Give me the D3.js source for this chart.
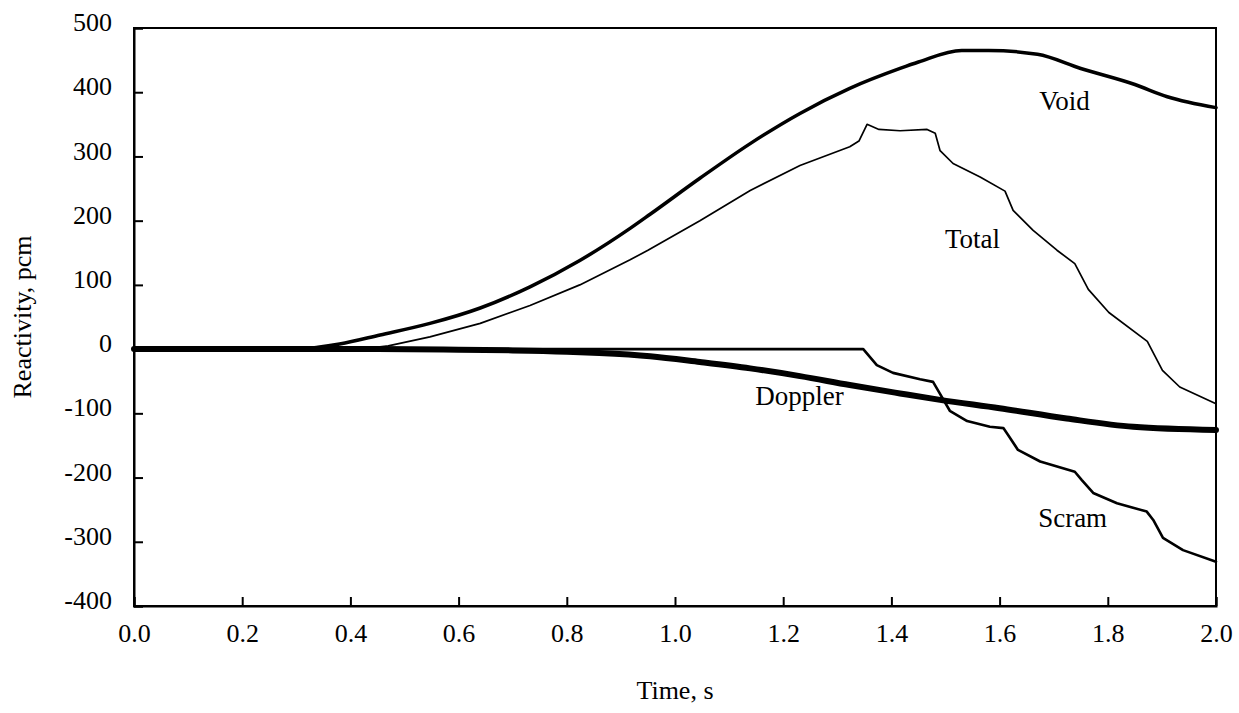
<!DOCTYPE html>
<html>
<head>
<meta charset="utf-8">
<script src="https://cdn.jsdelivr.net/npm/d3@7/dist/d3.min.js"></script>
<style>
  html, body { margin: 0; padding: 0; background: #fff; }
  svg { display: block; }
  text { font-family: "Liberation Serif", "Times New Roman", serif; fill: #000; }
</style>
</head>
<body>
<svg id="chart" width="1239" height="713"></svg>
<script>
// ---- data ----
const xTicks = [0.0, 0.2, 0.4, 0.6, 0.8, 1.0, 1.2, 1.4, 1.6, 1.8, 2.0];
const yTicks = [-400, -300, -200, -100, 0, 100, 200, 300, 400, 500];

const voidTime  = [0, 0.30, 0.34, 0.38, 0.455, 0.547, 0.64, 0.732, 0.824, 0.917, 0.954, 1.046, 1.139, 1.231, 1.323, 1.416, 1.45, 1.53, 1.58, 1.67, 1.75, 1.85, 1.91, 2.0];
const voidValue = [0, 0, 3, 8, 22, 40, 64, 97, 138, 188, 210, 266, 320, 367, 406, 437, 447, 465, 465, 459, 437, 412, 393, 376];

const totalTime  = [0, 0.42, 0.47, 0.547, 0.64, 0.732, 0.824, 0.917, 0.95, 1.046, 1.139, 1.231, 1.323, 1.34, 1.355, 1.377, 1.416, 1.466, 1.481, 1.49, 1.514, 1.564, 1.61, 1.625, 1.662, 1.706, 1.739, 1.764, 1.802, 1.873, 1.901, 1.933, 2.0];
const totalValue = [0, 0, 5, 19, 40, 68, 100, 139, 154, 200, 247, 286, 315, 324, 350, 342, 340, 342, 336, 309, 289, 268, 246, 216, 185, 154, 133, 93, 57, 12, -33, -59, -85];

const dopplerTime  = [0, 0.45, 0.6, 0.7, 0.8, 0.86, 0.954, 1.046, 1.139, 1.231, 1.323, 1.416, 1.49, 1.6, 1.724, 1.847, 2.0];
const dopplerValue = [0, 0, -1, -2, -4, -6, -11, -20, -30, -42, -56, -69, -79, -92, -108, -121, -126];

const scramTime  = [0, 1.348, 1.373, 1.403, 1.453, 1.477, 1.488, 1.508, 1.54, 1.582, 1.607, 1.616, 1.634, 1.675, 1.739, 1.752, 1.773, 1.817, 1.872, 1.884, 1.902, 1.939, 2.0];
const scramValue = [0, 0, -25, -37, -47, -51, -67, -96, -112, -121, -123, -134, -157, -175, -191, -204, -224, -240, -253, -266, -294, -313, -331];

const seriesNames = ["Void", "Total", "Doppler", "Scram"];
const labelTime  = [1.72, 1.55, 1.23, 1.735];
const labelValue = [386, 172, -73, -263];

// ---- chart ----
const svg = d3.select("#chart");
const W = 1239, H = 713;
const margin = { left: 134, right: W - 1216, top: 28, bottom: H - 606 };

const x = d3.scaleLinear().domain([0, 2]).range([margin.left, W - margin.right]);
const y = d3.scaleLinear().domain([-400, 500]).range([H - margin.bottom, margin.top]);

svg.append("rect").attr("width", W).attr("height", H).attr("fill", "#fff");

// plot frame
svg.append("rect")
  .attr("x", x(0)).attr("y", y(500))
  .attr("width", x(2) - x(0)).attr("height", y(-400) - y(500))
  .attr("fill", "none").attr("stroke", "#000").attr("stroke-width", 2);

// y axis (ticks inward)
const yAxis = d3.axisLeft(y).tickValues(yTicks).tickSize(-9).tickPadding(22)
  .tickFormat(d => String(d));
const gy = svg.append("g").attr("transform", `translate(${x(0)},0)`).call(yAxis);
gy.select(".domain").attr("stroke-width", 2);
gy.selectAll(".tick line").attr("stroke-width", 2);
gy.selectAll(".tick text")
  .style("font-size", "26px").attr("dy", "0.1em");

// x axis (ticks inward)
const xAxis = d3.axisBottom(x).tickValues(xTicks).tickSize(-9).tickPadding(18)
  .tickFormat(d3.format(".1f"));
const gx = svg.append("g").attr("transform", `translate(0,${y(-400)})`).call(xAxis);
gx.select(".domain").attr("stroke-width", 2);
gx.selectAll(".tick line").attr("stroke-width", 2);
gx.selectAll(".tick text").style("font-size", "26px");

// axis titles
svg.append("text")
  .attr("x", (x(0) + x(2)) / 2).attr("y", 699)
  .attr("text-anchor", "middle").style("font-size", "26px")
  .text("Time, s");
svg.append("text")
  .attr("transform", `translate(31,${(y(500) + y(-400)) / 2}) rotate(-90)`)
  .attr("text-anchor", "middle").style("font-size", "26px")
  .text("Reactivity, pcm");

// lines
function pts(ts, vs) { return ts.map((t, i) => [t, vs[i]]); }
const lineSmooth = d3.line().x(d => x(d[0])).y(d => y(d[1])).curve(d3.curveMonotoneX);
const lineSharp = d3.line().x(d => x(d[0])).y(d => y(d[1])).curve(d3.curveLinear);

const plot = svg.append("g").attr("fill", "none").attr("stroke", "#000")
  .attr("stroke-linejoin", "round").attr("stroke-linecap", "round");

plot.append("path").attr("d", lineSharp(pts(scramTime, scramValue))).attr("stroke-width", 2.6);
plot.append("path").attr("d", lineSharp(pts(totalTime, totalValue))).attr("stroke-width", 1.7);
plot.append("path").attr("d", lineSmooth(pts(voidTime, voidValue))).attr("stroke-width", 3.5);
plot.append("path").attr("d", lineSmooth(pts(dopplerTime, dopplerValue))).attr("stroke-width", 6);

// series labels
svg.append("g").selectAll("text").data(seriesNames).join("text")
  .attr("x", (d, i) => x(labelTime[i]))
  .attr("y", (d, i) => y(labelValue[i]))
  .attr("text-anchor", "middle").attr("dominant-baseline", "central")
  .style("font-size", "27px")
  .text(d => d);
</script>
</body>
</html>
